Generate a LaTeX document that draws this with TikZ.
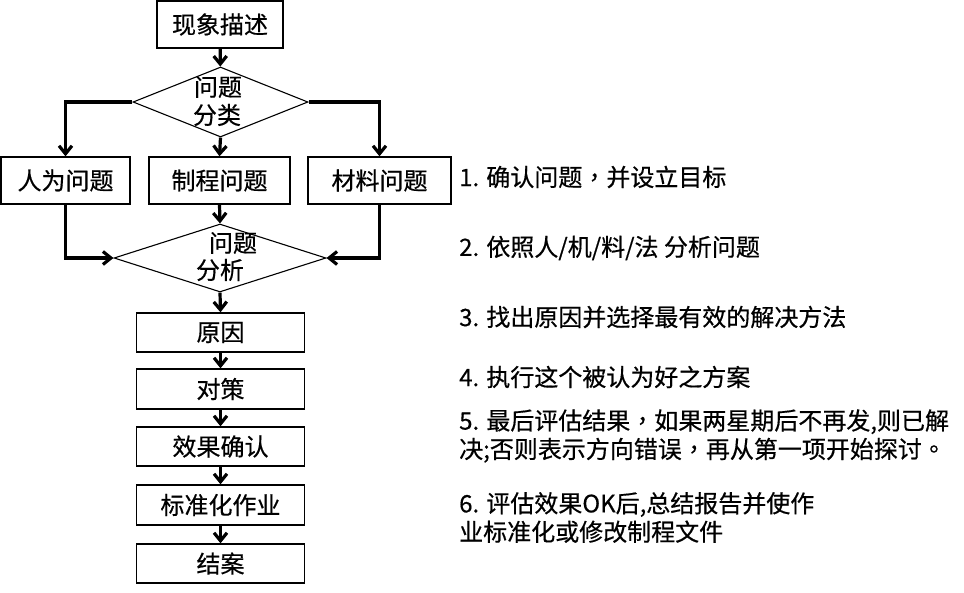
\documentclass[tikz,border=0pt]{standalone}
\usepackage{fontspec}
\setmainfont{Noto Sans CJK SC}[FakeBold=0.5]
\newfontfamily\tcfont{Noto Sans CJK TC}[FakeBold=0.5]
\usetikzlibrary{arrows.meta,shapes.geometric}
\begin{document}
\begin{tikzpicture}[x=1pt,y=-1pt,
  txt/.style={font=\fontsize{24}{28.5}\selectfont},
  box/.style={draw,line width=1.4pt,inner sep=0pt,txt},
  dia/.style={draw,diamond,line width=1.1pt,inner sep=0pt,minimum width=#1},
  lab/.style={inner sep=0pt,txt},
  conn/.style={line width=3.2pt,-{Straight Barb[length=8pt,width=13pt]}},
  note/.style={anchor=west,inner sep=0pt,align=left,txt}]
\useasboundingbox (0,0) rectangle (964,592);
% boxes
\node[box,minimum width=126pt,minimum height=47pt] (top) at (220,24.5) {现象描述};
\node[box,minimum width=129pt,minimum height=47pt] (b1) at (65.5,180.5) {人为问题};
\node[box,minimum width=141pt,minimum height=47pt] (b2) at (219.5,180.5) {制程问题};
\node[box,minimum width=143pt,minimum height=47pt] (b3) at (379.5,180.5) {材料问题};
\node[box,minimum width=168pt,minimum height=39pt] (c1) at (220.5,332.5) {原因};
\node[box,minimum width=168pt,minimum height=40pt] (c2) at (220.5,389) {对策};
\node[box,minimum width=168pt,minimum height=39pt] (c3) at (220.5,446.5) {效果确认};
\node[box,minimum width=168pt,minimum height=40pt] (c4) at (220.5,505) {标准化作业};
\node[box,minimum width=168pt,minimum height=39pt] (c5) at (220.5,563.5) {结案};
% diamonds
\node[dia=175pt,minimum height=70pt] (d1) at (220.5,102) {};
\node[dia=212pt,minimum height=68pt] (d2) at (220,258) {};
\node[lab] (d1a) at (218,87) {问题};
\node[lab] (d1b) at (217,115) {分类};
\node[lab] (d2a) at (233,243) {问题};
\node[lab] (d2b) at (220,270) {分析};
% connectors
\draw[conn] (top) -- (d1);
\draw[conn] (d1.west) -| (b1.north);
\draw[conn] (d1.east) -| (b3.north);
\draw[conn] (d1.south) -- (b2.north);
\draw[conn] (b1.south) |- (d2.west);
\draw[conn] (b3.south) |- (d2.east);
\draw[conn] (b2.south) -- (d2.north);
\draw[conn] (d2.south) -- (c1.north);
\draw[conn] (c1) -- (c2);
\draw[conn] (c2) -- (c3);
\draw[conn] (c3) -- (c4);
\draw[conn] (c4) -- (c5);
% notes
\node[note] (n1) at (459,177) {1. 确认问题{\tcfont ，}并设立目标};
\node[note] (n2) at (459,248) {2. 依照人/机/料/法 分析问题};
\node[note] (n3) at (459,317) {3. 找出原因并选择最有效的解决方法};
\node[note] (n4) at (459,377) {4. 执行这个被认为好之方案};
\node[note] (n5) at (459,436) {5. 最后评估结果{\tcfont ，}如果两星期后不再发,则已解\\决;否则表示方向错误{\tcfont ，}再从第一项开始探讨{\tcfont 。}};
\node[note] (n6) at (459,517.5) {6. 评估效果OK后,总结报告并使作\\业标准化或修改制程文件};
\end{tikzpicture}
\end{document}
